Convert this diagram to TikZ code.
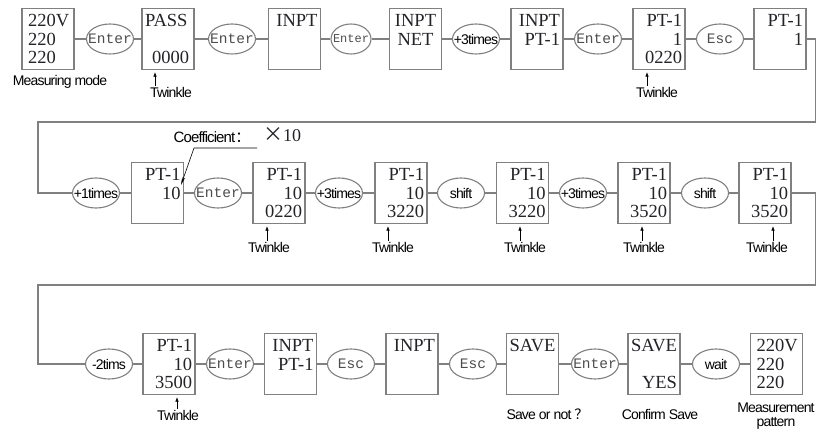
\documentclass[tikz,border=0pt]{standalone}
\usepackage{fontspec}
\setmainfont{Liberation Serif}
\setsansfont{Liberation Sans}[LetterSpace=-6]
\setmonofont{Liberation Mono}
\newfontfamily\cjk{Noto Sans CJK SC}
\usetikzlibrary{shapes.geometric,arrows.meta}
\definecolor{linegray}{RGB}{128,128,128}
\definecolor{inkgray}{RGB}{35,35,40}
\tikzset{
  box/.style={draw=linegray,line width=1.3pt,minimum width=52pt,minimum height=61pt,text width=46pt,align=right,inner sep=2pt,text=inkgray,font=\fontsize{18.5}{18.5}\selectfont},
  oval/.style={ellipse,draw=linegray,line width=1.1pt,minimum width=47pt,minimum height=30pt,inner sep=0pt,text=black!70,font=\ttfamily\fontsize{14.5}{15}\selectfont},
  sans/.style={text=black,font=\sffamily\fontsize{14}{12}\selectfont},
  note/.style={sans,inner sep=1pt},
  wire/.style={draw=linegray,line width=1.3pt},
  tw/.style={line width=0.6pt,-{Latex[length=4.5pt,width=3.5pt]},shorten >=2pt},
  lead/.style={line width=0.6pt,-{Stealth[length=8pt,width=3pt]}}
}
\begin{document}
\begin{tikzpicture}[x=1pt,y=-1pt]
  \useasboundingbox (0,0) rectangle (817,430);

  \node[box,text width=40pt,align=left] (A1) at (48,39) {220V\\220\\220};
  \node[oval] (E1) at (110,39) {\makebox[0pt]{Enter}};
  \node[box,align=left] (A2) at (168,39) {PASS\\~\\\hspace*{7pt}0000};
  \node[oval] (E2) at (232,39) {\makebox[0pt]{Enter}};
  \node[box] (A3) at (294.5,39) {INPT\\~\\~};
  \node[oval,minimum width=40pt,font=\ttfamily\fontsize{12}{12}\selectfont] (E3) at (351,39) {\makebox[0pt]{Enter}};
  \node[box,align=center] (A4) at (415.5,39) {INPT\\NET\\~};
  \node[oval,sans] (E4) at (476,39) {\makebox[0pt]{+3times}};
  \node[box] (A5) at (537,39) {INPT\\PT-1\\~};
  \node[oval] (E5) at (598,39) {\makebox[0pt]{Enter}};
  \node[box] (A6) at (659,39) {PT-1\\1\\0220};
  \node[oval] (E6) at (720,39) {\makebox[0pt]{Esc}};
  \node[box] (A7) at (780,39) {PT-1\\1\\~};

  \node[note] (M1) at (60,82) {Measuring mode};
  \node[note] (T1) at (171,92) {Twinkle};
  \node[note] (T2) at (657,92) {Twinkle};

  \draw[wire] (A1) -- (E1) (E1) -- (A2) (A2) -- (E2) (E2) -- (A3) (A3) -- (E3) (E3) -- (A4)
              (A4) -- (E4) (E4) -- (A5) (A5) -- (E5) (E5) -- (A6) (A6) -- (E6) (E6) -- (A7);
  \draw[tw] (T1.north -| 155,0) -- (A2.south -| 155,0);
  \draw[tw] (T2.north -| 647,0) -- (A6.south -| 647,0);

  \node[oval,sans] (F1) at (96,193) {\makebox[0pt]{+1times}};
  \node[box] (B1) at (157.5,193) {PT-1\\10\\~};
  \node[oval] (F2) at (218,193) {\makebox[0pt]{Enter}};
  \node[box] (B2) at (279,193) {PT-1\\10\\0220};
  \node[oval,sans] (F3) at (339,193) {\makebox[0pt]{+3times}};
  \node[box] (B3) at (401,193) {PT-1\\10\\3220};
  \node[oval,sans] (F4) at (461,193) {\makebox[0pt]{shift}};
  \node[box] (B4) at (522.5,193) {PT-1\\10\\3220};
  \node[oval,sans] (F5) at (583,193) {\makebox[0pt]{+3times}};
  \node[box] (B5) at (644,193) {PT-1\\10\\3520};
  \node[oval,sans] (F6) at (705,193) {\makebox[0pt]{shift}};
  \node[box] (B6) at (765,193) {PT-1\\10\\3520};

  \node[note,font=\sffamily\fontsize{15}{15}\selectfont] (K) at (212,137) {Coefficient{\cjk ：}};
  \node[text=inkgray,font=\fontsize{18}{18}\selectfont,inner sep=1pt] (X) at (282,135) {{\cjk\fontsize{20}{20}\selectfont ×}10};
  \coordinate (c1) at (257,148);
  \coordinate (c2) at (194,148);
  \coordinate (c3) at (181,185);
  \draw[lead] (c1) -- (c2) -- (c3);

  \node[note] (T3) at (269,247) {Twinkle};
  \node[note] (T4) at (393,247) {Twinkle};
  \node[note] (T5) at (525,247) {Twinkle};
  \node[note] (T6) at (644,247) {Twinkle};
  \node[note] (T7) at (767,247) {Twinkle};

  \coordinate (R1) at (815.5,122);
  \coordinate (L1) at (38,122);
  \draw[wire] (A7) -| (R1) -- (L1) |- (F1);
  \draw[wire] (F1) -- (B1) (B1) -- (F2) (F2) -- (B2) (B2) -- (F3) (F3) -- (B3)
              (B3) -- (F4) (F4) -- (B4) (B4) -- (F5) (F5) -- (B5) (B5) -- (F6) (F6) -- (B6);
  \draw[tw] (T3.north -| 267,0) -- (B2.south -| 267,0);
  \draw[tw] (T4.north -| 388,0) -- (B3.south -| 388,0);
  \draw[tw] (T5.north -| 520,0) -- (B4.south -| 520,0);
  \draw[tw] (T6.north -| 642,0) -- (B5.south -| 642,0);
  \draw[tw] (T7.north -| 773,0) -- (B6.south -| 773,0);

  \node[oval,sans] (G1) at (109,364) {\makebox[0pt]{-2tims}};
  \node[box] (C1) at (169,364) {PT-1\\10\\3500};
  \node[oval] (G2) at (230,364) {\makebox[0pt]{Enter}};
  \node[box] (C2) at (290.5,364) {INPT\\PT-1\\~};
  \node[oval] (G3) at (351,364) {\makebox[0pt]{Esc}};
  \node[box] (C3) at (412,364) {INPT\\~\\~};
  \node[oval] (G4) at (473,364) {\makebox[0pt]{Esc}};
  \node[box,align=center] (C4) at (532.5,364) {SAVE\\~\\~};
  \node[oval] (G5) at (595,364) {\makebox[0pt]{Enter}};
  \node[box] (C5) at (654,364) {SAVE\\~\\YES};
  \node[oval,sans] (G6) at (716,364) {\makebox[0pt]{wait}};
  \node[box,text width=40pt,align=left] (C6) at (776.5,364) {220V\\220\\220};

  \node[note] (T8) at (178,415) {Twinkle};
  \node[note] (S1) at (547.5,414) {Save or not {\cjk ？}};
  \node[note] (S2) at (660,414) {Confirm Save};
  \node[note,align=center,font=\sffamily\fontsize{14}{14}\selectfont] (S3) at (776,416) {Measurement\\pattern};

  \coordinate (R2) at (815.5,285);
  \coordinate (L2) at (38,285);
  \draw[wire] (B6) -| (R2) -- (L2) |- (G1);
  \draw[wire] (G1) -- (C1) (C1) -- (G2) (G2) -- (C2) (C2) -- (G3) (G3) -- (C3)
              (C3) -- (G4) (G4) -- (C4) (C4) -- (G5) (G5) -- (C5) (C5) -- (G6) (G6) -- (C6);
  \draw[tw] (T8.north -| 177,0) -- (C1.south -| 177,0);
\end{tikzpicture}
\end{document}
